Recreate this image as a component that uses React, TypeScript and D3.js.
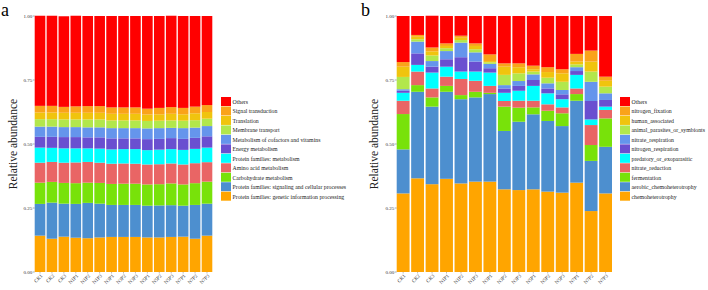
import React from 'react';
import * as d3 from 'd3';

// sample names shared by both panels
const samples = ['CK1', 'CK2', 'CK3', 'N1P1', 'N1P2', 'N1P3', 'N3P1', 'N3P2', 'N3P3', 'N5P1', 'N5P2', 'N5P3', 'N7P1', 'N7P2', 'N7P3'];
const yTicks = [0, 0.25, 0.5, 0.75, 1];

// panel a: predicted KEGG pathways (stack order, bottom first)
const geneticInfo = [0.142, 0.130, 0.138, 0.134, 0.132, 0.135, 0.137, 0.137, 0.137, 0.135, 0.135, 0.137, 0.138, 0.130, 0.142];
const signalingCellular = [0.124, 0.141, 0.129, 0.132, 0.138, 0.132, 0.125, 0.125, 0.125, 0.124, 0.125, 0.124, 0.121, 0.132, 0.125];
const carbohydrate = [0.083, 0.081, 0.081, 0.081, 0.079, 0.081, 0.082, 0.083, 0.083, 0.083, 0.083, 0.085, 0.083, 0.085, 0.086];
const aminoAcid = [0.078, 0.078, 0.079, 0.081, 0.081, 0.079, 0.079, 0.079, 0.078, 0.078, 0.078, 0.078, 0.078, 0.078, 0.076];
const protMetabolism = [0.059, 0.055, 0.056, 0.055, 0.053, 0.055, 0.056, 0.056, 0.057, 0.056, 0.057, 0.056, 0.057, 0.056, 0.057];
const energy = [0.042, 0.043, 0.044, 0.044, 0.043, 0.044, 0.043, 0.042, 0.042, 0.043, 0.042, 0.043, 0.043, 0.043, 0.044];
const cofactors = [0.040, 0.040, 0.039, 0.039, 0.039, 0.039, 0.040, 0.040, 0.040, 0.042, 0.042, 0.040, 0.042, 0.040, 0.040];
const membrane = [0.029, 0.029, 0.030, 0.030, 0.031, 0.031, 0.030, 0.030, 0.030, 0.029, 0.029, 0.029, 0.029, 0.029, 0.029];
const translation = [0.026, 0.026, 0.026, 0.026, 0.026, 0.026, 0.026, 0.026, 0.026, 0.025, 0.025, 0.026, 0.025, 0.027, 0.026];
const signalTrans = [0.026, 0.026, 0.023, 0.025, 0.026, 0.026, 0.025, 0.025, 0.025, 0.023, 0.025, 0.026, 0.025, 0.026, 0.027];
const othersA = [0.352, 0.352, 0.354, 0.354, 0.352, 0.352, 0.357, 0.357, 0.357, 0.362, 0.359, 0.357, 0.359, 0.354, 0.348];

// panel b: FAPROTAX functional groups (stack order, bottom first)
const chemohet = [0.307, 0.366, 0.343, 0.364, 0.346, 0.353, 0.353, 0.323, 0.320, 0.323, 0.314, 0.310, 0.349, 0.238, 0.307];
const aerobicChemohet = [0.172, 0.338, 0.303, 0.340, 0.329, 0.329, 0.342, 0.228, 0.267, 0.293, 0.276, 0.260, 0.320, 0.196, 0.182];
const fermentation = [0.138, 0.026, 0.036, 0.023, 0.016, 0.022, 0.005, 0.095, 0.055, 0.027, 0.040, 0.050, 0.026, 0.062, 0.111];
const nitrateReduction = [0.052, 0.053, 0.035, 0.036, 0.063, 0.043, 0.027, 0.022, 0.027, 0.026, 0.025, 0.023, 0.022, 0.078, 0.033];
const predatory = [0.031, 0.026, 0.062, 0.039, 0.029, 0.036, 0.052, 0.032, 0.039, 0.058, 0.043, 0.032, 0.053, 0.022, 0.013];
const nitrogenResp = [0.008, 0.045, 0.023, 0.029, 0.056, 0.039, 0.017, 0.017, 0.019, 0.023, 0.019, 0.019, 0.015, 0.072, 0.026];
const nitrateResp = [0.006, 0.046, 0.022, 0.032, 0.057, 0.036, 0.017, 0.013, 0.019, 0.022, 0.020, 0.017, 0.015, 0.075, 0.026];
const animalParasites = [0.048, 0.009, 0.022, 0.011, 0.010, 0.012, 0.006, 0.040, 0.030, 0.011, 0.022, 0.032, 0.011, 0.040, 0.026];
const humanAssociated = [0.040, 0.010, 0.016, 0.009, 0.009, 0.013, 0.005, 0.032, 0.024, 0.009, 0.022, 0.033, 0.011, 0.039, 0.023];
const nitrogenFixation = [0.018, 0.007, 0.015, 0.010, 0.008, 0.010, 0.026, 0.013, 0.015, 0.014, 0.019, 0.016, 0.030, 0.043, 0.016];
const othersB = [0.180, 0.074, 0.124, 0.107, 0.077, 0.107, 0.150, 0.185, 0.185, 0.194, 0.200, 0.208, 0.148, 0.135, 0.237];

const palette = ['#FFA500', '#4D8FCF', '#78E20A', '#E96565', '#00FFFF', '#6A4FD0', '#6595EC', '#B2E74C', '#F0C40E', '#FAA31A', '#FF0000'];

interface Series { name: string; values: number[] }

const seriesA: Series[] = [
  { name: 'Protein families: genetic information processing', values: geneticInfo },
  { name: 'Protein families: signaling and cellular processes', values: signalingCellular },
  { name: 'Carbohydrate metabolism', values: carbohydrate },
  { name: 'Amino acid metabolism', values: aminoAcid },
  { name: 'Protein families: metabolism', values: protMetabolism },
  { name: 'Energy metabolism', values: energy },
  { name: 'Metabolism of cofactors and vitamins', values: cofactors },
  { name: 'Membrane transport', values: membrane },
  { name: 'Translation', values: translation },
  { name: 'Signal transduction', values: signalTrans },
  { name: 'Others', values: othersA },
];

const seriesB: Series[] = [
  { name: 'chemoheterotrophy', values: chemohet },
  { name: 'aerobic_chemoheterotrophy', values: aerobicChemohet },
  { name: 'fermentation', values: fermentation },
  { name: 'nitrate_reduction', values: nitrateReduction },
  { name: 'predatory_or_exoparasitic', values: predatory },
  { name: 'nitrogen_respiration', values: nitrogenResp },
  { name: 'nitrate_respiration', values: nitrateResp },
  { name: 'animal_parasites_or_symbionts', values: animalParasites },
  { name: 'human_associated', values: humanAssociated },
  { name: 'nitrogen_fixation', values: nitrogenFixation },
  { name: 'Others', values: othersB },
];

const FONT = '"Liberation Serif", "Times New Roman", serif';
const TOP = 16;
const BOTTOM = 272;

interface PanelProps {
  letter: string;
  series: Series[];
  left: number;
  right: number;
  letterX: number;
  titleX: number;
  legendX: number;
}

const StackPanel = ({ letter, series, left, right, letterX, titleX, legendX }: PanelProps) => {
  const y = d3.scaleLinear().domain([0, 1]).range([BOTTOM, TOP]);
  const x = d3.scaleBand<string>().domain(samples).range([left, right]).paddingInner(0.11);

  const keys = series.map(s => s.name);
  const rows = samples.map((s, i) => {
    const row: Record<string, number | string> = { sample: s };
    series.forEach(se => { row[se.name] = se.values[i]; });
    return row;
  });
  const stacked = d3.stack<Record<string, number | string>>().keys(keys)(rows as any);

  const legendTop = 97;
  const legendStep = 9.47;
  const legendItems = series.map((s, i) => ({ name: s.name, color: palette[i] })).reverse();

  return (
    <g>
      <text x={letterX} y={16} fontFamily={FONT} fontSize={18}>{letter}</text>
      <text
        transform={`translate(${titleX},${(TOP + BOTTOM) / 2}) rotate(-90)`}
        textAnchor="middle"
        fontFamily={FONT}
        fontSize={11.5}
        fill="#222"
      >Relative abundance</text>

      {stacked.map((layer, li) => (
        <g key={layer.key} fill={palette[li]}>
          {layer.map((d, i) => (
            <rect
              key={samples[i]}
              x={x(samples[i])}
              y={y(d[1])}
              width={x.bandwidth()}
              height={Math.max(0, y(d[0]) - y(d[1]))}
            />
          ))}
        </g>
      ))}

      {yTicks.map(t => (
        <g key={t} transform={`translate(${left},${y(t)})`}>
          <line x1={-2} x2={0} stroke="#777" strokeWidth={0.6} />
          <text x={-2.5} dy="0.35em" textAnchor="end" fontFamily={FONT} fontSize={5} fill="#333">
            {d3.format('.2f')(t)}
          </text>
        </g>
      ))}

      {samples.map(s => {
        const cx = (x(s) ?? 0) + x.bandwidth() / 2;
        return (
          <g key={s}>
            <line x1={cx} x2={cx} y1={BOTTOM} y2={BOTTOM + 1.5} stroke="#777" strokeWidth={0.5} />
            <text
              transform={`translate(${cx + 1.5},${BOTTOM + 3}) rotate(-45)`}
              textAnchor="end"
              dy="0.35em"
              fontFamily={FONT}
              fontSize={5}
              fill="#333"
            >{s}</text>
          </g>
        );
      })}

      {legendItems.map((item, i) => (
        <g key={item.name} transform={`translate(${legendX},${legendTop + i * legendStep})`}>
          <rect width={10} height={9} fill={item.color} />
          <text x={11.5} y={4.8} dy="0.35em" fontFamily={FONT} fontSize={5.8} fill="#222">{item.name}</text>
        </g>
      ))}
    </g>
  );
};

export default function App() {
  return (
    <svg
      width={708}
      height={290}
      style={{ position: 'absolute', left: 0, top: 0, background: '#fff' }}
    >
      <rect width={708} height={290} fill="#fff" />
      <StackPanel letter="a" series={seriesA} left={34.7} right={212.3} letterX={1} titleX={17} legendX={221} />
      <StackPanel letter="b" series={seriesB} left={396.7} right={612} letterX={361} titleX={378} legendX={620} />
    </svg>
  );
}
